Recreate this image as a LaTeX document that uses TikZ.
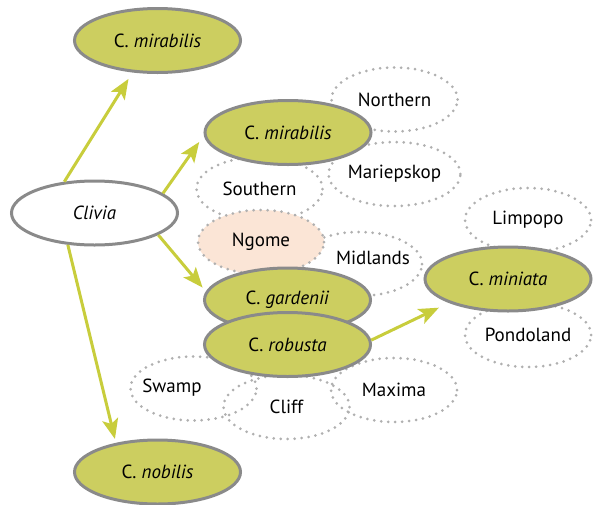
\documentclass[tikz,border=0pt]{standalone}
\usepackage{fontspec}
\setmainfont{PT Sans}
\usetikzlibrary{shapes.geometric,arrows.meta}
\definecolor{olive}{RGB}{204,206,96}
\definecolor{arrowgreen}{RGB}{200,205,60}
\definecolor{rim}{RGB}{138,138,138}
\definecolor{dots}{RGB}{176,176,176}
\definecolor{peach}{RGB}{251,229,214}
\begin{document}
\begin{tikzpicture}[x=1pt, y=-1pt, font=\fontsize{19}{22}\selectfont,
    species/.style={ellipse, draw=rim, line width=3pt, fill=olive, inner sep=0pt, minimum width=166pt, minimum height=64pt},
    genus/.style={species, fill=white},
    form/.style={ellipse, draw=dots, line width=3pt, line cap=round, dash pattern=on 0pt off 7pt, inner sep=0pt, minimum width=126pt, minimum height=64pt},
    link/.style={draw=arrowgreen, line width=3pt, -{Stealth[length=20pt, width=16pt, inset=4.5pt]}}]
  \useasboundingbox (0,0) rectangle (597,504);
  % forme
  \node[form] (northern) at (394.5,99.5) {Northern};
  \node[form] (mariepskop) at (394.5,174) {Mariepskop};
  \node[form] (southern) at (259.5,189) {Southern};
  \node[form] (midlands) at (359,264) {};
  \node (midlandstxt) at (373,258) {Midlands};
  \node[form] (swamp) at (193.5,388.5) {};
  \node (swamptxt) at (172,388) {Swamp};
  \node[form] (cliff) at (286.5,407) {Cliff};
  \node[form] (maxima) at (394,390) {Maxima};
  \node[form] (limpopo) at (528,220) {Limpopo};
  \node[form] (pondoland) at (528,335) {Pondoland};
  \node[form, fill=peach] (ngome) at (261,242) {Ngome};
  % specie
  \node[genus] (clivia) at (94.5,213) {\itshape Clivia};
  \node[species] (mirA) at (157.5,40.5) {C. \textit{mirabilis}};
  \node[species] (mirB) at (288,132.5) {C. \textit{mirabilis}};
  \node[species] (gardenii) at (287.5,300) {C. \textit{gardenii}};
  \node[species] (robusta) at (287.5,344.5) {C. \textit{robusta}};
  \node[species] (miniata) at (508,279) {C. \textit{miniata}};
  \node[species] (nobilis) at (157.5,472) {C. \textit{nobilis}};
  % frecce
  \draw[link, shorten >=7.5pt] (clivia.134) -- (mirA.232);
  \draw[link, shorten >=8pt] (clivia.16) -- (mirB.182);
  \draw[link, shorten >=5pt] (clivia.-19) -- (gardenii.174);
  \draw[link, shorten >=4pt] (clivia.230) -- (nobilis.145);
  \draw[link, shorten >=11pt] (robusta.3) -- (miniata.202);
\end{tikzpicture}
\end{document}
